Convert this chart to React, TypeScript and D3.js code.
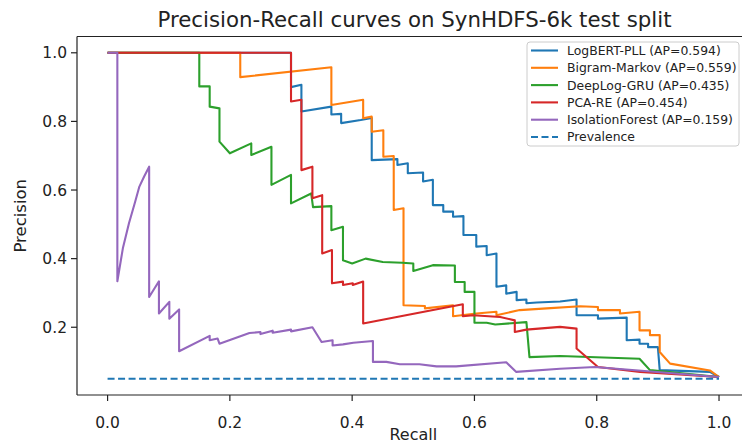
import * as d3 from "d3";

type Pt = [number, number];

const logbert: Pt[] = [
  [0, 1], [0.3, 1], [0.3, 0.9], [0.317, 0.907], [0.317, 0.829], [0.366, 0.843], [0.366, 0.82],
  [0.382, 0.822], [0.382, 0.795], [0.414, 0.804], [0.432, 0.81], [0.432, 0.687], [0.474, 0.69],
  [0.474, 0.673], [0.491, 0.678], [0.491, 0.649], [0.516, 0.651], [0.516, 0.625], [0.532, 0.63],
  [0.532, 0.556], [0.549, 0.556], [0.549, 0.537], [0.565, 0.537], [0.565, 0.522], [0.582, 0.524],
  [0.582, 0.469], [0.603, 0.469], [0.603, 0.435], [0.62, 0.437], [0.62, 0.41], [0.636, 0.415],
  [0.636, 0.318], [0.652, 0.322], [0.652, 0.298], [0.669, 0.303], [0.669, 0.279], [0.685, 0.281],
  [0.685, 0.27], [0.702, 0.272], [0.74, 0.275], [0.767, 0.281], [0.767, 0.235], [0.802, 0.235],
  [0.802, 0.225], [0.849, 0.228], [0.849, 0.162], [0.87, 0.164], [0.87, 0.152], [0.884, 0.152],
  [0.884, 0.142], [0.9, 0.142], [0.903, 0.075], [0.985, 0.07], [1.0, 0.055],
];

const bigram: Pt[] = [
  [0, 1], [0.217, 1], [0.217, 0.929], [0.366, 0.958], [0.366, 0.848], [0.418, 0.863], [0.418, 0.809],
  [0.432, 0.814], [0.432, 0.77], [0.451, 0.774], [0.451, 0.697], [0.468, 0.699], [0.468, 0.542],
  [0.484, 0.547], [0.484, 0.264], [0.519, 0.262], [0.519, 0.255], [0.565, 0.264], [0.565, 0.232],
  [0.603, 0.24], [0.636, 0.245], [0.636, 0.235], [0.674, 0.25], [0.718, 0.255], [0.773, 0.261],
  [0.802, 0.259], [0.802, 0.25], [0.838, 0.25], [0.838, 0.24], [0.87, 0.245], [0.87, 0.191],
  [0.887, 0.191], [0.887, 0.177], [0.903, 0.177], [0.903, 0.128], [0.92, 0.094], [0.985, 0.074],
  [1.0, 0.055],
];

const deeplog: Pt[] = [
  [0, 1], [0.15, 1], [0.15, 0.902], [0.167, 0.902], [0.167, 0.843], [0.183, 0.838], [0.183, 0.741],
  [0.2, 0.707], [0.235, 0.736], [0.235, 0.702], [0.268, 0.726], [0.268, 0.615], [0.3, 0.644],
  [0.3, 0.561], [0.333, 0.59], [0.336, 0.55], [0.366, 0.553], [0.366, 0.483], [0.385, 0.493],
  [0.385, 0.395], [0.4, 0.386], [0.422, 0.4], [0.45, 0.39], [0.482, 0.388], [0.5, 0.386],
  [0.5, 0.364], [0.532, 0.381], [0.568, 0.38], [0.568, 0.332], [0.584, 0.332], [0.584, 0.303],
  [0.6, 0.303], [0.6, 0.213], [0.62, 0.213], [0.634, 0.208], [0.685, 0.215], [0.69, 0.113],
  [0.74, 0.116], [0.87, 0.108], [0.887, 0.075], [1.0, 0.055],
];

const pcaRe: Pt[] = [
  [0, 1], [0.3, 1], [0.3, 0.858], [0.317, 0.863], [0.317, 0.658], [0.335, 0.668], [0.335, 0.576],
  [0.351, 0.585], [0.351, 0.415], [0.367, 0.425], [0.367, 0.328], [0.385, 0.333], [0.385, 0.323],
  [0.401, 0.328], [0.401, 0.323], [0.418, 0.333], [0.418, 0.211], [0.581, 0.267], [0.581, 0.232],
  [0.598, 0.235], [0.642, 0.23], [0.666, 0.22], [0.666, 0.186], [0.685, 0.193], [0.74, 0.201],
  [0.767, 0.196], [0.767, 0.138], [0.802, 0.084], [0.871, 0.07], [1.0, 0.055],
];

const isoForest: Pt[] = [
  [0, 1], [0.016, 1], [0.016, 0.334], [0.025, 0.43], [0.035, 0.503], [0.045, 0.565], [0.052, 0.61],
  [0.06, 0.64], [0.068, 0.668], [0.068, 0.288], [0.084, 0.334], [0.084, 0.24], [0.101, 0.274],
  [0.101, 0.225], [0.117, 0.252], [0.117, 0.13], [0.167, 0.175], [0.167, 0.162], [0.18, 0.167],
  [0.183, 0.152], [0.232, 0.183], [0.25, 0.186], [0.25, 0.18], [0.27, 0.19], [0.27, 0.184],
  [0.3, 0.193], [0.3, 0.188], [0.335, 0.2], [0.35, 0.157], [0.368, 0.162], [0.368, 0.147],
  [0.385, 0.15], [0.402, 0.155], [0.434, 0.16], [0.434, 0.099], [0.456, 0.099], [0.478, 0.092],
  [0.51, 0.092], [0.538, 0.086], [0.57, 0.086], [0.652, 0.098], [0.668, 0.07], [0.74, 0.079],
  [0.797, 0.084], [1.0, 0.055],
];

const prevalence = 0.05;

const seriesNames = [
  "LogBERT-PLL (AP=0.594)",
  "Bigram-Markov (AP=0.559)",
  "DeepLog-GRU (AP=0.435)",
  "PCA-RE (AP=0.454)",
  "IsolationForest (AP=0.159)",
];
const seriesColors = ["#1f77b4", "#ff7f0e", "#2ca02c", "#d62728", "#9467bd"];
const seriesData = [logbert, bigram, deeplog, pcaRe, isoForest];

const xTicks = [0, 0.2, 0.4, 0.6, 0.8, 1.0];
const yTicks = [0.2, 0.4, 0.6, 0.8, 1.0];

const W = 742;
const H = 444;
const left = 77;
const right = 749.6;
const top = 36.5;
const bottom = 395;
const font = "DejaVu Sans";

export default function App() {
  const x = d3.scaleLinear().domain([-0.05, 1.05]).range([left, right]);
  const y = d3.scaleLinear().domain([0.0025, 1.0475]).range([bottom, top]);
  const line = d3
    .line<Pt>()
    .x((d) => x(d[0]))
    .y((d) => y(d[1]));

  return (
    <svg
      width={W}
      height={H}
      style={{ position: "absolute", left: 0, top: 0, background: "#fff" }}
      fontFamily={font}
    >
      <defs>
        <clipPath id="plot">
          <rect x={left} y={top} width={right - left} height={bottom - top} />
        </clipPath>
      </defs>

      <text x={414.5} y={26.5} textAnchor="middle" fontSize={21.3} fill="#222">
        Precision-Recall curves on SynHDFS-6k test split
      </text>

      <g clipPath="url(#plot)">
        {seriesData.map((data, i) => (
          <path
            key={i}
            d={line(data) || ""}
            fill="none"
            stroke={seriesColors[i]}
            strokeWidth={2.1}
            strokeLinejoin="round"
          />
        ))}
        <line
          x1={x(0)}
          x2={x(1)}
          y1={y(prevalence)}
          y2={y(prevalence)}
          stroke="#1f77b4"
          strokeWidth={2.1}
          strokeDasharray="7,3.5"
        />
      </g>

      {/* spines */}
      <line x1={left} x2={left} y1={top} y2={bottom} stroke="#222" strokeWidth={1.2} />
      <line x1={left} x2={right} y1={top} y2={top} stroke="#222" strokeWidth={1.2} />
      <line x1={left} x2={right} y1={bottom} y2={bottom} stroke="#222" strokeWidth={1.2} />

      {xTicks.map((t) => (
        <g key={"x" + t}>
          <line x1={x(t)} x2={x(t)} y1={bottom} y2={bottom + 6} stroke="#222" strokeWidth={1.2} />
          <text x={x(t)} y={427.5} textAnchor="middle" fontSize={15.5} fill="#222">
            {t.toFixed(1)}
          </text>
        </g>
      ))}
      {yTicks.map((t) => (
        <g key={"y" + t}>
          <line x1={left - 6} x2={left} y1={y(t)} y2={y(t)} stroke="#222" strokeWidth={1.2} />
          <text
            x={left - 10}
            y={y(t)}
            dy="0.36em"
            textAnchor="end"
            fontSize={15.5}
            fill="#222"
          >
            {t.toFixed(1)}
          </text>
        </g>
      ))}

      <text x={(left + right) / 2} y={440} textAnchor="middle" fontSize={16} fill="#222">
        Recall
      </text>
      <text
        transform={`translate(26,${(top + bottom) / 2}) rotate(-90)`}
        textAnchor="middle"
        fontSize={16.5}
        fill="#222"
      >
        Precision
      </text>

      {/* legend */}
      <g>
        <rect
          x={527}
          y={42}
          width={212}
          height={104}
          rx={3}
          fill="#fff"
          fillOpacity={0.85}
          stroke="#ccc"
        />
        {seriesNames.map((name, i) => (
          <g key={name} transform={`translate(0,${50.5 + i * 17.3})`}>
            <line x1={531} x2={558} y1={0} y2={0} stroke={seriesColors[i]} strokeWidth={2.1} />
            <text x={567} y={0} dy="0.36em" fontSize={12.4} fill="#222">
              {name}
            </text>
          </g>
        ))}
        <g transform={`translate(0,${50.5 + 5 * 17.3})`}>
          <line
            x1={531}
            x2={558}
            y1={0}
            y2={0}
            stroke="#1f77b4"
            strokeWidth={2.1}
            strokeDasharray="7,3.5"
          />
          <text x={567} y={0} dy="0.36em" fontSize={12.4} fill="#222">
            Prevalence
          </text>
        </g>
      </g>
    </svg>
  );
}
